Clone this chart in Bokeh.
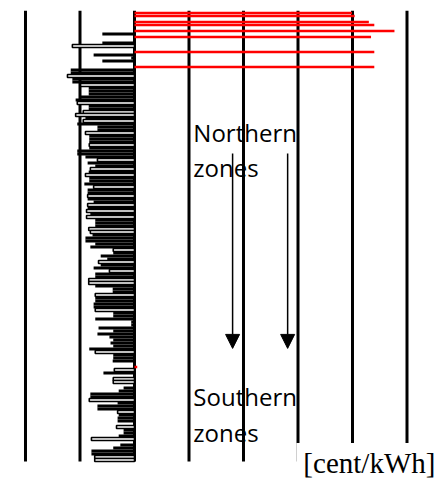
from bokeh.plotting import figure
from bokeh.models import Range1d, Label, Arrow, NormalHead, ColumnDataSource
from bokeh.embed import file_html
from bokeh.resources import INLINE
from bokeh.core.properties import value

# Zones, north (row 0) to south (row 149); values in cent/kWh
zone_vals = [
    0, 0, 0, 0, 0, 0, 0, -0.59, 0, 0,
    -0.59, -1.14, 0, 0, -0.75, -0.06, -0.59, 0, 0, -1.17,
    -1.17, -1.23, -1.14, -1.14, -0.99, -0.84, -0.84, -0.84, -0.99, -1.08,
    -1.05, -0.84, -0.84, -0.94, -1.08, -0.90, -0.94, -1.05, -0.68, -0.68,
    -0.90, -0.83, -0.83, -0.83, -0.83, -0.83, -1.05, -1.05, -0.90, -0.68,
    -0.86, -0.72, -0.81, -0.84, -0.90, -0.83, -0.83, -0.92, -0.75, -0.86,
    -0.86, -0.86, -0.86, -0.75, -0.86, -0.86, -0.88, -0.81, -0.88, -0.72,
    -0.72, -0.72, -0.84, -0.81, -0.77, -0.90, -0.90, -0.72, -0.81, -0.39,
    -0.39, -0.62, -0.50, -0.66, -0.62, -0.75, -0.46, -0.72, -0.72, -0.84,
    -0.84, -0.72, -0.40, -0.40, -0.72, -0.72, -0.72, -0.75, -0.75, -0.72,
    -0.39, -0.39, -0.72, -0.06, -0.06, -0.66, -0.39, -0.68, -0.46, -0.39,
    -0.44, -0.39, -0.83, -0.72, -0.39, -0.39, -0.40, 0, 0, -0.37,
    -0.57, 0, -0.39, -0.39, 0, -0.20, -0.29, -0.81, -0.81, -0.83,
    -0.31, -0.68, -0.68, -0.31, -0.29, -0.31, -0.31, 0, -0.33, -0.20,
    -0.20, -0.29, -0.79, 0, -0.26, -0.39, -0.79, -0.79, -0.73, -0.73,
]
# f = solid bar, h = outlined bar, - = none
zone_kind = (
    "-------f--" "fh--fff--f" "fhffhfffff" "hffhhfhfff" "hfffhffffh"
    "ffhfhfffhf" "fhffhfhfhf" "ffhhfffffh" "fffhffhffh" "hfffhffffh"
    "ffffffffff" "fffhfff--h" "f-hh-ffffh" "fffhfff-hf" "ffh-ffffhh"
)
red_rows = [0, 1, 3, 4, 6, 8, 13, 18, 118]
red_vals = [3.99, 4.04, 4.30, 4.40, 4.77, 4.34, 4.40, 4.40, 0.05]
grid_ticks = [-2, -1, 0, 1, 2, 3, 4, 5]

zone_labels = ["Northern", "zones", "Southern", "zones"]
zone_label_x = [1.08, 1.08, 1.08, 1.08]
zone_label_y = [39.9, 51.5, 128.0, 139.7]
arrow_x = [1.80, 2.81]
arrow_y0 = 46.8
arrow_y1 = 111.8

n = len(zone_vals)
rows = list(range(n))
top_edge, bottom_edge = -0.8333, n - 0.5

solid = ColumnDataSource(dict(
    y=[r for r in rows if zone_kind[r] == "f"],
    left=[zone_vals[r] for r in rows if zone_kind[r] == "f"],
))
hollow = ColumnDataSource(dict(
    y=[r for r in rows if zone_kind[r] == "h"],
    left=[zone_vals[r] for r in rows if zone_kind[r] == "h"],
))
red = ColumnDataSource(dict(y=red_rows, right=red_vals))

p = figure(width=442, height=478, output_backend="svg", toolbar_location=None,
           x_range=Range1d(-2.4587, 5.6514), y_range=Range1d(155.17, top_edge),
           min_border_left=0, min_border_right=0, min_border_top=10, min_border_bottom=0)
p.axis.visible = False
p.outline_line_color = None
p.grid.visible = False
p.background_fill_color = "white"

# vertical grid lines at each cent
p.segment(x0=grid_ticks, x1=grid_ticks, y0=[top_edge] * len(grid_ticks),
          y1=[bottom_edge] * len(grid_ticks), line_color="black", line_width=3)

p.hbar(y="y", left="left", right=0, height=1.0, source=solid,
       fill_color="black", line_color=None)
p.hbar(y="y", left="left", right=0, height=1.0, source=hollow,
       fill_color="white", line_color="black", line_width=1.6)
p.hbar(y="y", left=0, right="right", height=0.9, source=red,
       fill_color="#FF0000", line_color=None)

p.text(x=zone_label_x, y=zone_label_y, text=zone_labels,
       text_font=value("Open Sans"), text_font_size="24px",
       text_baseline="alphabetic", text_color="black")

for ax in arrow_x:
    p.add_layout(Arrow(x_start=ax, y_start=arrow_y0, x_end=ax, y_end=arrow_y1,
                       line_width=1.5, line_color="black",
                       end=NormalHead(size=14, fill_color="black", line_color="black")))

p.add_layout(Label(x=2.97, y=151.0, text="[cent/kWh]", text_font="Liberation Serif",
                   text_font_size="29px", text_baseline="alphabetic", text_color="black",
                   background_fill_color="white",
                   padding=dict(left=7, right=10, top=4, bottom=10)))

open("out.html", "w").write(file_html(p, INLINE))
